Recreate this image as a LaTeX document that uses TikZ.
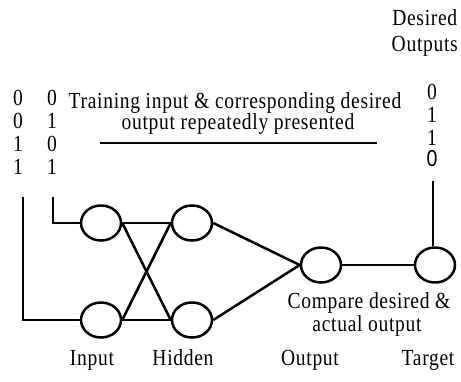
\documentclass[tikz,border=0pt]{standalone}
\usepackage{fontspec}
\setmainfont{Liberation Serif}[LetterSpace=3,FakeStretch=0.85]
\newfontfamily\sansO{Liberation Sans}[FakeStretch=0.85]
\usetikzlibrary{shapes.geometric}
\begin{document}
\begin{tikzpicture}[x=1pt,y=-1pt,
  neuron/.style={ellipse,draw,line width=2.5pt,minimum width=40pt,minimum height=35pt,inner sep=0pt},
  wire/.style={line width=2.5pt},
  lbl/.style={font=\fontsize{23}{25}\selectfont,inner sep=0pt,anchor=base},
  every node/.append style={text=black}]
\useasboundingbox (0,0) rectangle (461,381);
% nodes
\node[neuron] (in1) at (101,223) {};
\node[neuron] (in2) at (101,320) {};
\node[neuron] (h1) at (192,223) {};
\node[neuron] (h2) at (192,320) {};
\node[neuron] (out) at (321,265) {};
\node[neuron] (tgt) at (435,265) {};
% coordinates
\coordinate (a0) at (23,197);
\coordinate (a1) at (23,320);
\coordinate (b0) at (53,197);
\coordinate (b1) at (53,223);
\coordinate (t0) at (433,181);
% wires
\draw[wire] (a0) -- (a1) -- (in2.west);
\draw[wire] (b0) -- (b1) -- (in1.west);
\draw[wire] (in1.east) -- (h1.west);
\draw[wire] (in1.east) -- (h2.west);
\draw[wire] (in2.east) -- (h1.west);
\draw[wire] (in2.east) -- (h2.west);
\draw[wire] (h1.east) -- (out.west);
\draw[wire] (h2.east) -- (out.west);
\draw[wire] (out.east) -- (tgt.west);
\draw[wire] (t0) -- (t0 |- tgt.north);
% left digits
\node[lbl] (l11) at (18,105) {0};
\node[lbl] (l12) at (52,105) {0};
\node[lbl] (l21) at (18,128) {0};
\node[lbl] (l22) at (52,128) {1};
\node[lbl] (l31) at (18,151) {1};
\node[lbl] (l32) at (52,151) {0};
\node[lbl] (l41) at (18,174) {1};
\node[lbl] (l42) at (52,174) {1};
% right digits
\node[lbl] (r1) at (432,99) {0};
\node[lbl] (r2) at (432,122) {1};
\node[lbl] (r3) at (432,145) {1};
\node[lbl] (r4) at (432,166) {\sansO 0};
% titles
\node[lbl,anchor=base east] (des2) at (458,51) {Outputs};
\node[lbl] (des1) at ([yshift=26pt]des2.base) {Desired};
\node[lbl] (tr1) at (235,108) {Training input \& corresponding desired};
\node[lbl] (tr2) at (238,129) {output repeatedly presented};
\coordinate (u0) at (100,143);
\coordinate (u1) at (377,143);
\draw[wire] (u0) -- (u1);
\node[lbl] (cmp1) at (369,308) {Compare desired \&};
\node[lbl] (cmp2) at (367,331) {actual output};
\node[lbl] (Lin) at (92,365) {Input};
\node[lbl] (Lhid) at (183,365) {Hidden};
\node[lbl] (Lout) at (310,365) {Output};
\node[lbl] (Ltgt) at (428,365) {Target};
\end{tikzpicture}
\end{document}
